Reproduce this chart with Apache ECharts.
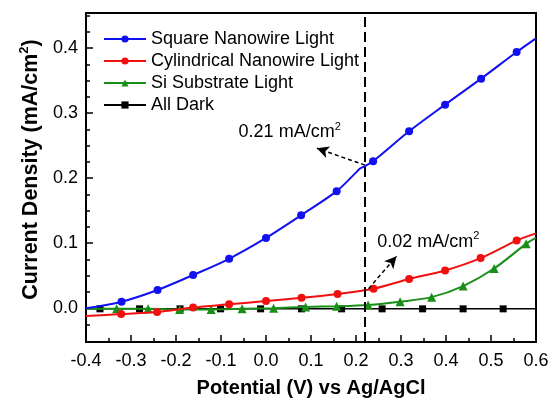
<!DOCTYPE html>
<html>
<head>
<meta charset="utf-8">
<script src="https://cdn.jsdelivr.net/npm/echarts@6/dist/echarts.min.js"></script>
<style>
  html, body { margin: 0; padding: 0; background: #fff; }
  #chart { width: 550px; height: 399px; }
</style>
</head>
<body>
<div id="chart"></div>
<script>
// data (potential in V, current density in mA/cm2)
var squareX = [-0.4, -0.321, -0.241, -0.162, -0.082, 0.0, 0.078, 0.157, 0.2015, 0.209, 0.22, 0.238, 0.318, 0.398, 0.478, 0.557, 0.6];
var squareY = [0.0, 0.010, 0.028, 0.051, 0.076, 0.108, 0.143, 0.180, 0.2097, 0.2149, 0.2185, 0.226, 0.272, 0.313, 0.353, 0.394, 0.415];
var squareMark = [0, 1, 1, 1, 1, 1, 1, 1, 0, 0, 0, 1, 1, 1, 1, 1, 0];

var cylX = [-0.4, -0.322, -0.242, -0.162, -0.082, 0.0, 0.079, 0.159, 0.239, 0.318, 0.398, 0.477, 0.557, 0.6];
var cylY = [-0.012, -0.009, -0.006, 0.001, 0.006, 0.011, 0.016, 0.022, 0.030, 0.045, 0.058, 0.077, 0.104, 0.115];
var cylMark = [0, 1, 1, 1, 1, 1, 1, 1, 1, 1, 1, 1, 1, 0];

var siX = [-0.4, -0.332, -0.262, -0.192, -0.122, -0.053, 0.017, 0.088, 0.157, 0.227, 0.298, 0.368, 0.438, 0.507, 0.578, 0.6];
var siY = [-0.001, -0.001, -0.001, -0.002, -0.002, -0.001, 0.000, 0.002, 0.003, 0.005, 0.010, 0.017, 0.034, 0.061, 0.099, 0.108];
var siMark = [0, 1, 1, 1, 1, 1, 1, 1, 1, 1, 1, 1, 1, 1, 1, 0];

var darkX = [-0.4, -0.369, -0.281, -0.191, -0.101, -0.012, 0.079, 0.168, 0.258, 0.348, 0.438, 0.527, 0.6];
var darkY = [-0.001, -0.001, -0.001, -0.001, -0.001, -0.001, -0.001, -0.001, -0.001, -0.001, -0.001, -0.001, -0.001];
var darkMark = [0, 1, 1, 1, 1, 1, 1, 1, 1, 1, 1, 1, 0];

var yLabels = [0, 0.1, 0.2, 0.3, 0.4];
var yMinor = [-0.025, 0.025, 0.05, 0.075, 0.125, 0.15, 0.175, 0.225, 0.25, 0.275, 0.325, 0.35, 0.375, 0.425, 0.45];

var cutX = 0.22;
var arrow1 = [[0.22, 0.22], [0.113, 0.246]];
var arrow2 = [[0.228, 0.030], [0.29, 0.080]];
var note1 = { x: -0.062, y: 0.271, val: '0.21' };
var note2 = { x: 0.246, y: 0.102, val: '0.02' };

var FONT = 'Liberation Sans';

function build(xs, ys, marks) {
    var out = [];
    for (var i = 0; i < xs.length; i++) {
        var d = { value: [xs[i], ys[i]] };
        if (!marks[i]) d.symbol = 'none';
        out.push(d);
    }
    return out;
}

var noteRich = {
    a: { fontFamily: FONT, fontSize: 18, color: '#000', lineHeight: 22 },
    s: { fontFamily: FONT, fontSize: 11, color: '#000', verticalAlign: 'top' }
};

function noteLabel(n) {
    return {
        coord: [n.x, n.y],
        symbol: 'circle',
        symbolSize: 1,
        itemStyle: { color: 'rgba(0,0,0,0)' },
        label: {
            show: true,
            position: 'right',
            distance: 0,
            formatter: '{a|' + n.val + ' mA/cm}{s|2}',
            rich: noteRich
        }
    };
}

var chart = echarts.init(document.getElementById('chart'));
var option = {
    animation: false,
    backgroundColor: '#fff',
    grid: {
        left: 86, right: 14, top: 13, bottom: 57,
        outerBoundsMode: 'none',
        show: true, borderColor: '#000', borderWidth: 2
    },
    legend: {
        orient: 'vertical',
        left: 98,
        top: 24,
        itemWidth: 42,
        itemHeight: 9,
        itemGap: 2,
        textStyle: { fontFamily: FONT, fontSize: 18, color: '#000', lineHeight: 20 },
        data: ['Square Nanowire Light', 'Cylindrical Nanowire Light', 'Si Substrate Light', 'All Dark']
    },
    xAxis: {
        type: 'value',
        min: -0.4, max: 0.6, interval: 0.1,
        name: 'Potential (V) vs Ag/AgCl',
        nameLocation: 'middle',
        nameGap: 36,
        nameTextStyle: { fontFamily: FONT, fontSize: 20, fontWeight: 'bold', color: '#000' },
        axisLine: { onZero: false, lineStyle: { color: '#000', width: 2 } },
        axisTick: { inside: true, length: 7, lineStyle: { color: '#000', width: 1.5 } },
        minorTick: { show: true, splitNumber: 2, length: 4, lineStyle: { color: '#000', width: 1.5 } },
        axisLabel: {
            fontFamily: FONT, fontSize: 18, color: '#000', margin: 10,
            formatter: function (v) { return v.toFixed(1); }
        },
        splitLine: { show: false }
    },
    yAxis: [{
        type: 'value',
        min: -0.052, max: 0.454,
        name: '{b|Current Density (mA/cm}{t|2}{b|)}',
        nameLocation: 'middle',
        nameRotate: 90,
        nameGap: 38,
        nameTextStyle: {
            padding: [0, 0, 0, 16],
            rich: {
                b: { fontFamily: FONT, fontSize: 21.5, fontWeight: 'bold', color: '#000', lineHeight: 26 },
                t: { fontFamily: FONT, fontSize: 13, fontWeight: 'bold', color: '#000', verticalAlign: 'top' }
            }
        },
        axisLine: { show: true, onZero: false, lineStyle: { color: '#000', width: 2 } },
        axisTick: { inside: true, length: 7, customValues: yLabels, lineStyle: { color: '#000', width: 1.5 } },
        axisLabel: {
            fontFamily: FONT, fontSize: 18, color: '#000', margin: 8,
            customValues: yLabels,
            formatter: function (v) { return v.toFixed(1); }
        },
        splitLine: { show: false }
    }, {
        type: 'value',
        position: 'left',
        min: -0.052, max: 0.454,
        axisLine: { show: false, onZero: false },
        axisTick: { show: true, inside: true, length: 4, customValues: yMinor, lineStyle: { color: '#000', width: 1.5 } },
        axisLabel: { show: false },
        splitLine: { show: false }
    }],
    series: [{
        name: 'Square Nanowire Light',
        type: 'line',
        smooth: 0.3,
        data: build(squareX, squareY, squareMark),
        symbol: 'circle',
        symbolSize: 8,
        color: '#1010f0',
        lineStyle: { width: 2 },
        z: 5
    }, {
        name: 'Cylindrical Nanowire Light',
        type: 'line',
        smooth: 0.3,
        data: build(cylX, cylY, cylMark),
        symbol: 'circle',
        symbolSize: 8,
        color: '#f01010',
        lineStyle: { width: 2 },
        z: 4
    }, {
        name: 'Si Substrate Light',
        type: 'line',
        smooth: 0.3,
        data: build(siX, siY, siMark),
        symbol: 'triangle',
        symbolSize: 9,
        color: '#189018',
        lineStyle: { width: 2 },
        z: 3
    }, {
        name: 'All Dark',
        type: 'line',
        data: build(darkX, darkY, darkMark),
        symbol: 'rect',
        symbolSize: 7,
        color: '#000',
        lineStyle: { width: 1.5 },
        z: 2,
        markLine: {
            silent: true,
            animation: false,
            label: { show: false },
            data: [
                [{ xAxis: cutX, yAxis: -0.052, symbol: 'none' }, { xAxis: cutX, yAxis: 0.454, symbol: 'none',
                  lineStyle: { type: [10, 5], width: 2, color: '#000' } }],
                [{ coord: arrow1[0], symbol: 'none' }, { coord: arrow1[1], symbol: 'arrow', symbolSize: [9, 12],
                  lineStyle: { type: [4, 3], width: 1.5, color: '#000' } }],
                [{ coord: arrow2[0], symbol: 'none' }, { coord: arrow2[1], symbol: 'arrow', symbolSize: [9, 12],
                  lineStyle: { type: [4, 3], width: 1.5, color: '#000' } }]
            ],
            lineStyle: { color: '#000', width: 1.5 }
        },
        markPoint: {
            silent: true,
            data: [noteLabel(note1), noteLabel(note2)]
        }
    }]
};
chart.setOption(option);
</script>
</body>
</html>
